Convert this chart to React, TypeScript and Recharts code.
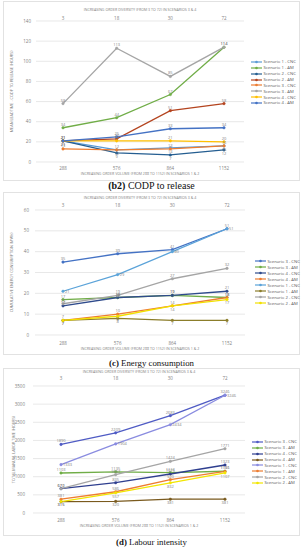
import { CartesianGrid, LabelList, Line, LineChart, XAxis, YAxis } from "recharts";

const volumeLabels = ["288", "576", "864", "1152"];
const diversityLabels = ["3", "18", "30", "72"];

const topTitle = "INCREASING ORDER DIVERSITY (FROM 3 TO 72) IN SCENARIOS 3 & 4";
const bottomTitle = "INCREASING ORDER VOLUME (FROM 288 TO 1152) IN SCENARIOS 1 & 2";

// (b2) CODP to release
const codpNames = [
  "Scenario 1 - CNC",
  "Scenario 1 - AM",
  "Scenario 2 - CNC",
  "Scenario 2 - AM",
  "Scenario 3 - CNC",
  "Scenario 3 - AM",
  "Scenario 4 - CNC",
  "Scenario 4 - AM",
];
const codpValues = [
  [21, 12, 14, 16],
  [34, 44, 67, 114],
  [21, 9, 7, 12],
  [21, 23, 51, 58],
  [13, 12, 13, 16],
  [58, 113, 85, 114],
  [21, 21, 21, 20],
  [21, 25, 33, 34],
];
const codpTicks = [0, 20, 40, 60, 80, 100, 120, 140];

// (c) Energy consumption
const energyNames = [
  "Scenario 3 - CNC",
  "Scenario 3 - AM",
  "Scenario 4 - CNC",
  "Scenario 4 - AM",
  "Scenario 1 - CNC",
  "Scenario 1 - AM",
  "Scenario 2 - CNC",
  "Scenario 2 - AM",
];
const energyValues = [
  [35, 39, 41, 51],
  [17, 18, 19, 18],
  [14, 18, 19, 21],
  [7, 10, 14, 18],
  [21, 29, 40, 51],
  [7, 8, 7, 7],
  [15, 19, 27, 32],
  [7, 9, 14, 17],
];
const energyTicks = [0, 10, 20, 30, 40, 50, 60];

// (d) Labour intensity
const labourNames = energyNames;
const labourValues = [
  [1890, 2209, 2683, 3246],
  [1103, 1135, 1113, 1151],
  [672, 835, 1075, 1323],
  [315, 320, 381, 381],
  [1333, 1904, 2434, 3246],
  [381, 586, 920, 1146],
  [670, 1057, 1424, 1771],
  [315, 557, 832, 1107],
];
const labourTicks = [0, 500, 1000, 1500, 2000, 2500, 3000, 3500];

const codpColors = ["#5b9bd5", "#70ad47", "#255e91", "#b4441f", "#ed7d31", "#a5a5a5", "#ffc000", "#4472c4"];
const energyColors = ["#4472c4", "#70ad47", "#2f4b8c", "#ed7d31", "#5ba3d9", "#8b7d2a", "#a5a5a5", "#f2e000"];
const labourColors = ["#4f5bc4", "#70ad47", "#2f3f8f", "#7a5a1e", "#8a8ce0", "#ed7d31", "#a5a5a5", "#f2e600"];

const codpLabelPos = ["bottom", "top", "bottom", "top", "top", "top", "top", "top"];
const energyLabelPos = ["top", "top", "top", "top", "right", "bottom", "top", "bottom"];
const labourLabelPos = ["top", "top", "top", "bottom", "right", "top", "top", "bottom"];

const GRAY = "#7f7f7f";

function buildRows(values: number[][]) {
  return volumeLabels.map((v, i) => {
    const row: Record<string, string | number> = { volume: v, diversity: diversityLabels[i] };
    values.forEach((s, k) => {
      row[`s${k}`] = s[i];
    });
    return row;
  });
}

function yTitleLabel(text: string, x: number) {
  return {
    content: (p: any) => {
      const vb = p.viewBox || {};
      const cy = vb.y + vb.height / 2;
      return (
        <text
          x={x}
          y={cy}
          transform={`rotate(-90 ${x} ${cy})`}
          textAnchor="middle"
          dominantBaseline="central"
          fontSize={3.8}
          fill={GRAY}
          fontFamily="Open Sans"
        >
          {text}
        </text>
      );
    },
  };
}

function LegendBlock({ names, colors, left, top, step }: any) {
  return (
    <div style={{ position: "absolute", left, top, fontFamily: "Open Sans", fontSize: 4.2, color: "#595959" }}>
      {names.map((n: string, i: number) => (
        <div key={n + i} style={{ display: "flex", alignItems: "center", height: step, whiteSpace: "nowrap" }}>
          <svg width={11} height={4} style={{ marginRight: 1.5 }}>
            <line x1={0} y1={2} x2={11} y2={2} stroke={colors[i]} strokeWidth={1.2} />
            <circle cx={5.5} cy={2} r={1.3} fill={colors[i]} />
          </svg>
          <span>{n}</span>
        </div>
      ))}
    </div>
  );
}

function Panel(props: any) {
  const {
    top, height, plotLeft, plotRight, plotTop, plotBottom, padL, padR,
    values, colors, labelPos, yMax, yTicks, yTitle, yTitleX, yTickMargin,
    topTickGap, bottomTickGap, topTitleOffset, bottomTitleOffset,
  } = props;
  const data = buildRows(values);
  const tickStyle = { fontSize: 4.5, fill: GRAY, fontFamily: "Open Sans" };
  return (
    <div style={{ position: "absolute", left: 0, top, width: 303, height }}>
      <LineChart
        width={303}
        height={height}
        data={data}
        margin={{ top: 0, right: 303 - plotRight, bottom: 0, left: 0 }}
      >
        <CartesianGrid vertical={false} stroke="#d9d9d9" strokeWidth={0.6} xAxisId="bottom" />
        <XAxis
          xAxisId="top"
          dataKey="diversity"
          orientation="top"
          height={plotTop}
          padding={{ left: padL, right: padR }}
          axisLine={false}
          tickLine={false}
          tickSize={topTickGap}
          tickMargin={0}
          interval={0}
          tick={tickStyle}
          label={{ value: topTitle, position: "insideTop", offset: topTitleOffset, fontSize: 3.6, fill: GRAY, fontFamily: "Open Sans" }}
        />
        <XAxis
          xAxisId="bottom"
          dataKey="volume"
          orientation="bottom"
          height={height - plotBottom}
          padding={{ left: padL, right: padR }}
          axisLine={false}
          tickLine={false}
          tickSize={bottomTickGap}
          tickMargin={0}
          interval={0}
          tick={tickStyle}
          label={{ value: bottomTitle, position: "insideBottom", offset: bottomTitleOffset, fontSize: 3.6, fill: GRAY, fontFamily: "Open Sans" }}
        />
        <YAxis
          width={plotLeft}
          domain={[0, yMax]}
          ticks={yTicks}
          interval={0}
          axisLine={false}
          tickLine={false}
          tickSize={2}
          tickMargin={yTickMargin}
          tick={tickStyle}
          label={yTitleLabel(yTitle, yTitleX)}
        />
        {values.map((_: number[], k: number) => (
          <Line
            key={k}
            xAxisId="bottom"
            dataKey={`s${k}`}
            stroke={colors[k]}
            strokeWidth={1.3}
            dot={{ r: 1.3, fill: colors[k], stroke: colors[k], strokeWidth: 0.4 }}
            isAnimationActive={false}
          >
            <LabelList
              dataKey={`s${k}`}
              position={labelPos[k]}
              offset={2}
              fontSize={4}
              fill={GRAY}
              fontFamily="Open Sans"
            />
          </Line>
        ))}
      </LineChart>
    </div>
  );
}

function Frame({ top, bottom }: { top: number; bottom: number }) {
  return (
    <div
      style={{
        position: "absolute",
        left: 3,
        top,
        width: 297,
        height: bottom - top,
        border: "1px solid #e2e2e2",
        boxSizing: "border-box",
      }}
    />
  );
}

function Caption({ top, size, tag, text }: any) {
  return (
    <div
      style={{
        position: "absolute",
        left: 0,
        top,
        width: 303,
        textAlign: "center",
        fontFamily: "Liberation Serif",
        fontSize: size,
        lineHeight: "12px",
        color: "#111",
      }}
    >
      <b>{tag}</b> {text}
    </div>
  );
}

export default function App() {
  return (
    <div style={{ position: "absolute", left: 0, top: 0, width: 303, height: 550, background: "#fff", overflow: "hidden" }}>
      <Frame top={1} bottom={181} />
      <Frame top={192} bottom={355} />
      <Frame top={368} bottom={536} />

      <Panel
        top={0}
        height={180}
        plotLeft={36}
        plotRight={244}
        plotTop={21}
        plotBottom={162}
        padL={27}
        padR={20}
        values={codpValues}
        colors={codpColors}
        labelPos={codpLabelPos}
        yMax={140}
        yTicks={codpTicks}
        yTitle="MEAN LEADTIME - CODP TO RELEASE (HOURS)"
        yTitleX={11}
        yTickMargin={3}
        topTickGap={1.5}
        bottomTickGap={4.4}
        topTitleOffset={8.5}
        bottomTitleOffset={4.7}
      />
      <LegendBlock names={codpNames} colors={codpColors} left={251} top={59} step={5.86} />
      <Caption top={180} size={10} tag="(b2)" text="CODP to release" />

      <Panel
        top={190}
        height={165}
        plotLeft={35}
        plotRight={245}
        plotTop={20}
        plotBottom={145}
        padL={28}
        padR={18}
        values={energyValues}
        colors={energyColors}
        labelPos={energyLabelPos}
        yMax={60}
        yTicks={energyTicks}
        yTitle="CUMULATIVE ENERGY CONSUMPTION (MWh)"
        yTitleX={11}
        yTickMargin={4}
        topTickGap={3.4}
        bottomTickGap={6.4}
        topTitleOffset={6.7}
        bottomTitleOffset={4.7}
      />
      <LegendBlock names={energyNames} colors={energyColors} left={255} top={258} step={6} />
      <Caption top={357} size={8.8} tag="(c)" text="Energy consumption" />

      <Panel
        top={365}
        height={170}
        plotLeft={33}
        plotRight={245}
        plotTop={21}
        plotBottom={148}
        padL={28}
        padR={20}
        values={labourValues}
        colors={labourColors}
        labelPos={labourLabelPos}
        yMax={3500}
        yTicks={labourTicks}
        yTitle="TOTAL MANUAL LABOR TIME (HOURS)"
        yTitleX={13}
        yTickMargin={6}
        topTickGap={6.4}
        bottomTickGap={5.4}
        topTitleOffset={5.7}
        bottomTitleOffset={7.7}
      />
      <LegendBlock names={labourNames} colors={labourColors} left={252} top={439} step={5.86} />
      <Caption top={536} size={8.8} tag="(d)" text="Labour intensity" />
    </div>
  );
}
